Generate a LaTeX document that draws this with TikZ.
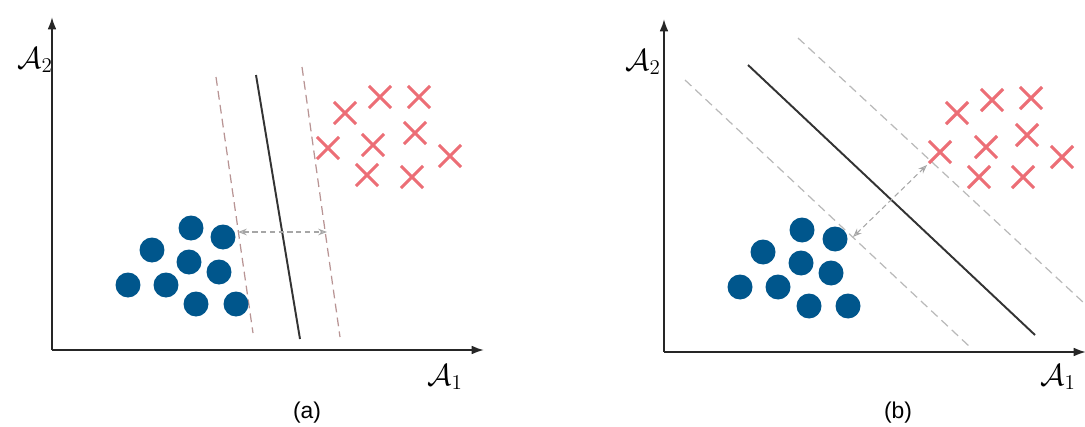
\documentclass[tikz,border=0pt]{standalone}
\usepackage{amsmath,amssymb}
\usepackage{fontspec}
\setmainfont{Liberation Sans}
\usetikzlibrary{shapes,shapes.misc,positioning,calc,arrows.meta}
\definecolor{dotblue}{RGB}{0,86,140}
\definecolor{crossred}{RGB}{236,110,118}

\begin{document}
\begin{tikzpicture}[
    x=0.02cm, y=-0.02cm,
    dot/.style={circle, fill=dotblue, inner sep=0pt, minimum size=0.5cm},
    crs/.style={cross out, draw=crossred, line width=1.8pt, inner sep=0pt, minimum size=0.38cm},
    axis/.style={-{Latex[length=7pt,width=5pt]}, line width=1.1pt, black!85},
    sep/.style={line width=1.1pt, black!80},
    margin/.style={line width=0.7pt, dash pattern=on 5pt off 3pt},
    gap/.style={{Stealth[open,length=5pt]}-{Stealth[open,length=5pt]}, densely dashed, line width=0.6pt, gray!70},
    axlabel/.style={font=\fontsize{17}{20}\selectfont},
    panel/.style={font=\fontsize{13}{15}\selectfont}
]
\useasboundingbox (0,0) rectangle (1085,426);

% ===== LEFT PANEL (a) =====
\coordinate (aO) at (52,350);
\coordinate (aX) at (484,350);
\coordinate (aY) at (52,17);
\draw[axis] (aO) -- (aX);
\draw[axis] (aO) -- (aY);
\node[axlabel] (aA2) at (35,60) {$\mathcal{A}_2$};
\node[axlabel] (aA1) at (445,377) {$\mathcal{A}_1$};
\node[panel] (acap) at (307,413) {(a)};

% Separating line and margins
\coordinate (as1) at (256,75);
\coordinate (as2) at (300,339);
\coordinate (al1) at (216,77);
\coordinate (al2) at (253,333);
\coordinate (ar1) at (302,67);
\coordinate (ar2) at (340,337);
\draw[margin, red!20!gray!70] (al1) -- (al2);
\draw[margin, red!20!gray!70] (ar1) -- (ar2);
\draw[sep] (as1) -- (as2);

% Blue points
\node[dot] (ab1) at (191,228) {};
\node[dot] (ab2) at (223,237) {};
\node[dot] (ab3) at (152,250) {};
\node[dot] (ab4) at (189,262) {};
\node[dot] (ab5) at (219,272) {};
\node[dot] (ab6) at (128,285) {};
\node[dot] (ab7) at (166,285) {};
\node[dot] (ab8) at (196,304) {};
\node[dot] (ab9) at (236,304) {};

% Red points
\node[crs] (ar1x) at (345,113) {};
\node[crs] (ar2x) at (380,97) {};
\node[crs] (ar3x) at (419,97) {};
\node[crs] (ar4x) at (328,148) {};
\node[crs] (ar5x) at (373,145) {};
\node[crs] (ar6x) at (415,133) {};
\node[crs] (ar7x) at (450,156) {};
\node[crs] (ar8x) at (367,175) {};
\node[crs] (ar9x) at (412,177) {};

% Margin width
\coordinate (am1) at (238,232);
\coordinate (am2) at (327,232);
\draw[gap] (am1) -- (am2);

% ===== RIGHT PANEL (b) =====
\coordinate (bO) at (664,352);
\coordinate (bX) at (1086,352);
\coordinate (bY) at (664,19);
\draw[axis] (bO) -- (bX);
\draw[axis] (bO) -- (bY);
\node[axlabel] (bA2) at (643,62) {$\mathcal{A}_2$};
\node[axlabel] (bA1) at (1058,377) {$\mathcal{A}_1$};
\node[panel] (bcap) at (898,413) {(b)};

% Separating line and margins
\coordinate (bs1) at (748,65);
\coordinate (bs2) at (1035,335);
\coordinate (bl1) at (685,80);
\coordinate (bl2) at (970,347);
\coordinate (br1) at (798,38);
\coordinate (br2) at (1084,303);
\draw[margin, gray!55] (bl1) -- (bl2);
\draw[margin, gray!55] (br1) -- (br2);
\draw[sep] (bs1) -- (bs2);

% Blue points
\node[dot] (bb1) at (802,230) {};
\node[dot] (bb2) at (835,239) {};
\node[dot] (bb3) at (763,252) {};
\node[dot] (bb4) at (801,263) {};
\node[dot] (bb5) at (831,273) {};
\node[dot] (bb6) at (740,287) {};
\node[dot] (bb7) at (778,287) {};
\node[dot] (bb8) at (809,306) {};
\node[dot] (bb9) at (848,306) {};

% Red points
\node[crs] (br1x) at (957,113) {};
\node[crs] (br2x) at (992,100) {};
\node[crs] (br3x) at (1031,98) {};
\node[crs] (br4x) at (940,152) {};
\node[crs] (br5x) at (986,147) {};
\node[crs] (br6x) at (1027,135) {};
\node[crs] (br7x) at (1062,157) {};
\node[crs] (br8x) at (979,177) {};
\node[crs] (br9x) at (1023,177) {};

% Margin width
\coordinate (bm1) at (853,237);
\coordinate (bm2) at (927,165);
\draw[gap] (bm1) -- (bm2);

\end{tikzpicture}
\end{document}
